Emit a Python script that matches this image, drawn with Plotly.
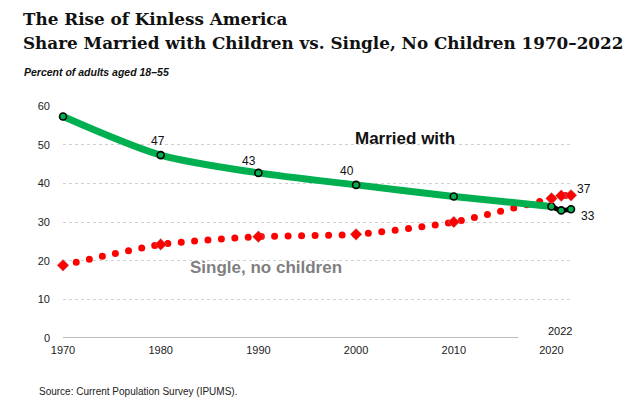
import plotly.graph_objects as go

years = [1970, 1980, 1990, 2000, 2010, 2020, 2021, 2022]
married = [57.3, 47.3, 42.7, 39.6, 36.6, 34.0, 33.0, 33.3]
single = [18.8, 24.2, 26.2, 26.8, 30.0, 36.1, 36.8, 36.9]
x_ticks = [1970, 1980, 1990, 2000, 2010, 2020]
y_ticks = [0, 10, 20, 30, 40, 50, 60]

GREEN = "#00b050"
RED = "#ff0000"
SANS = "Liberation Sans, Arial, sans-serif"
SERIF = "DejaVu Serif, serif"

fig = go.Figure()

fig.add_trace(go.Scatter(x=years, y=single, mode="lines",
                         line=dict(color=RED, width=7, dash="0px,13.4px", shape="spline", smoothing=0.6),
                         hoverinfo="skip", showlegend=False))
fig.add_trace(go.Scatter(x=years[:6], y=married[:6], mode="lines",
                         line=dict(color=GREEN, width=7, shape="spline", smoothing=0.8),
                         hoverinfo="skip", showlegend=False))
fig.add_trace(go.Scatter(x=years[5:], y=married[5:], mode="lines",
                         line=dict(color="black", width=5, shape="spline", smoothing=0.6),
                         hoverinfo="skip", showlegend=False))
fig.add_trace(go.Scatter(x=years, y=married, mode="markers",
                         marker=dict(symbol="circle", size=7, color=GREEN,
                                     line=dict(color="black", width=1.6)),
                         cliponaxis=False, hoverinfo="skip", showlegend=False))
fig.add_trace(go.Scatter(x=years, y=single, mode="markers",
                         marker=dict(symbol="diamond", size=9, color=RED,
                                     line=dict(color="rgba(150,150,150,0.6)", width=0.8)),
                         cliponaxis=False, hoverinfo="skip", showlegend=False))

annotations = []
label_specs = [
    (married, 1, -3, 14),
    (married, 2, -9, 12),
    (married, 3, -9, 14),
    (married, 7, 17, -7),
    (single, 7, 13, 6),
]
for series, i, dx, dy in label_specs:
    annotations.append(dict(x=years[i], y=series[i], text=str(int(round(series[i]))),
                            showarrow=False, xshift=dx, yshift=dy,
                            font=dict(family=SANS, size=12, color="#111")))

annotations += [
    dict(x=2005.0, y=51.7, text="<b>Married with</b>", showarrow=False,
         font=dict(family=SANS, size=17, color="#111")),
    dict(x=1990.8, y=18.2, text="<b>Single, no children</b>", showarrow=False,
         font=dict(family=SANS, size=17, color="#7f7f7f")),
    dict(x=2022, y=1.8, text="2022", showarrow=False, xanchor="right", xshift=3,
         font=dict(family=SANS, size=11, color="#111")),
]

W, H = 640, 409
ml, mr, mt, mb = 63, 69, 106, 71
pw, ph = W - ml - mr, H - mt - mb


def px(xp):
    return (xp - ml) / pw


def py(yp):
    return (H - mb - yp) / ph


annotations += [
    dict(x=px(21), y=py(19), xref="paper", yref="paper", xanchor="left", yanchor="middle",
         text="<b>The Rise of Kinless America</b>", showarrow=False,
         font=dict(family=SERIF, size=16.8, color="#111")),
    dict(x=px(21), y=py(43), xref="paper", yref="paper", xanchor="left", yanchor="middle",
         text="<b>Share Married with Children vs. Single, No Children 1970\u20132022</b>", showarrow=False,
         font=dict(family=SERIF, size=16.8, color="#111")),
    dict(x=px(22), y=py(72), xref="paper", yref="paper", xanchor="left", yanchor="middle",
         text="<b><i>Percent of adults aged 18\u201355</i></b>", showarrow=False,
         font=dict(family=SANS, size=10.5, color="#111")),
    dict(x=px(37), y=py(391), xref="paper", yref="paper", xanchor="left", yanchor="middle",
         text="Source: Current Population Survey (IPUMS).", showarrow=False,
         font=dict(family=SANS, size=10, color="#222")),
]

fig.add_shape(type="line", x0=1970, x1=2016.6, y0=0, y1=0, xref="x", yref="y",
              line=dict(color="#a6a6a6", width=1.5))

fig.update_layout(
    width=W, height=H,
    margin=dict(l=ml, r=mr, t=mt, b=mb, autoexpand=False),
    paper_bgcolor="white", plot_bgcolor="white",
    annotations=annotations,
    xaxis=dict(range=[1970, 2022], tickvals=x_ticks, showgrid=False, zeroline=False,
               showline=False, ticks="", automargin=False, ticklabelstandoff=4,
               tickfont=dict(family=SANS, size=11, color="#222")),
    yaxis=dict(range=[0, 60], tickvals=y_ticks, showgrid=True, gridcolor="#d0d0d0",
               griddash="dot", gridwidth=1, zeroline=True, zerolinecolor="rgba(0,0,0,0)",
               showline=False, ticks="", ticklabelstandoff=12, automargin=False,
               tickfont=dict(family=SANS, size=11, color="#222")),
)

post = """
document.body.style.margin='0';
document.body.style.padding='0';
document.querySelectorAll('.scatterlayer .trace path.js-line').forEach(function(p){
  p.style.strokeLinecap='round'; p.style.strokeLinejoin='round';
});
"""
fig.write_html("out.html", post_script=post, config={"displayModeBar": False})
